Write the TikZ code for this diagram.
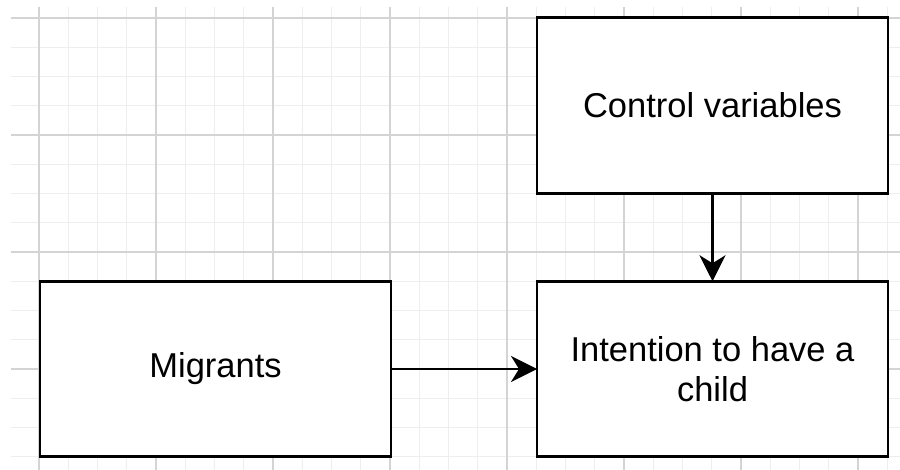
\documentclass[tikz,border=0pt]{standalone}
\usepackage{fontspec}
\setmainfont{Liberation Sans}
\usetikzlibrary{positioning,arrows.meta}
\definecolor{minorgrid}{RGB}{238,238,238}
\definecolor{majorgrid}{RGB}{212,212,212}

\begin{document}
\begin{tikzpicture}[x=1pt,y=-1pt,
  box/.style={rectangle,draw,line width=2.9pt,minimum width=351pt,minimum height=175.5pt,
    inner sep=0pt,outer sep=0pt,align=center,font=\fontsize{34.5}{40}\selectfont},
  link/.style={line width=2.3pt,-{Stealth[length=26pt,width=26pt,inset=8pt]}},
  thin grid/.style={draw=minorgrid,line width=1.3pt},
  thick grid/.style={draw=majorgrid,line width=1.3pt}]
\useasboundingbox (0,0) rectangle (900,470);
% background grid
\foreach \i in {0,...,29}
  \draw[thin grid] ({39+\i*29.25},7) -- ({39+\i*29.25},470);
\foreach \i in {0,...,15}
  \draw[thin grid] (11,{18+\i*29.25}) -- (900,{18+\i*29.25});
\foreach \i in {0,...,7}
  \draw[thick grid] ({39+\i*117},7) -- ({39+\i*117},470);
\foreach \i in {0,...,3}
  \draw[thick grid] (11,{18+\i*117}) -- (900,{18+\i*117});
% boxes
\node [box,fill=white] (migr) at (215.5,369) {\raisebox{-4pt}{Migrants}};
\node [box,fill=white,right=146pt of migr] (intent) {Intention to have a\\child};
\node [box,fill=white,above=88pt of intent] (ctrl) {Control variables};
% arrows
\draw[link] (migr) -- (intent);
\draw[link] (ctrl) -- (intent);
\end{tikzpicture}
\end{document}
